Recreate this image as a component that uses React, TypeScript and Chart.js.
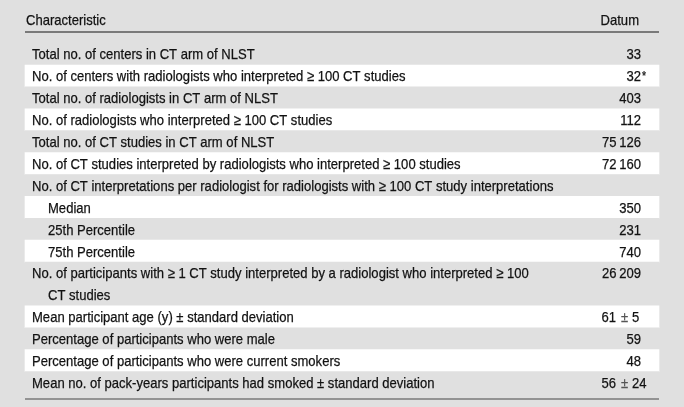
import React, { useEffect, useRef } from "react";
import { Chart, registerables } from "chart.js";

Chart.register(...registerables);

// ---- data ----
const headerLabels = ["Characteristic", "Datum"];

const characteristicLines: string[][] = [
  ["Total no. of centers in CT arm of NLST"],
  ["No. of centers with radiologists who interpreted \u2265 100 CT studies"],
  ["Total no. of radiologists in CT arm of NLST"],
  ["No. of radiologists who interpreted \u2265 100 CT studies"],
  ["Total no. of CT studies in CT arm of NLST"],
  ["No. of CT studies interpreted by radiologists who interpreted \u2265 100 studies"],
  ["No. of CT interpretations per radiologist for radiologists with \u2265 100 CT study interpretations"],
  ["Median"],
  ["25th Percentile"],
  ["75th Percentile"],
  ["No. of participants with \u2265 1 CT study interpreted by a radiologist who interpreted \u2265 100", "CT studies"],
  ["Mean participant age (y) \u00b1 standard deviation"],
  ["Percentage of participants who were male"],
  ["Percentage of participants who were current smokers"],
  ["Mean no. of pack-years participants had smoked \u00b1 standard deviation"],
];

const indentLevels = [0, 0, 0, 0, 0, 0, 0, 1, 1, 1, 0, 0, 0, 0, 0];

const datumMain = ["33", "32", "403", "112", "75\u2009126", "72\u2009160", "", "350", "231", "740", "26\u2009209", "61", "59", "48", "56"];
const datumSpread = ["", "", "", "", "", "", "", "", "", "", "", "5", "", "", "24"];
const datumFootnote = ["", "*", "", "", "", "", "", "", "", "", "", "", "", "", ""];

// ---- row slots (a wrapped row takes more than one slot) ----
const rowSlots: number[] = [];
{
  let s = 1;
  for (const lines of characteristicLines) {
    rowSlots.push(s);
    s += lines.length;
  }
}

const FONT = '"Liberation Sans", Arial, sans-serif';
const FONT_SIZE = 15;
const X_SQUEEZE = 0.87;

export default function App() {
  const ref = useRef<HTMLCanvasElement | null>(null);

  useEffect(() => {
    if (!ref.current) return;

    const drawText = (
      ctx: CanvasRenderingContext2D,
      text: string,
      x: number,
      y: number,
      align: CanvasTextAlign,
      size: number = FONT_SIZE,
      color: string = "#121212"
    ) => {
      ctx.save();
      ctx.translate(x, y + 0.36 * FONT_SIZE);
      ctx.scale(X_SQUEEZE, 1);
      ctx.font = `${size}px ${FONT}`;
      ctx.fillStyle = color;
      ctx.strokeStyle = color;
      ctx.lineWidth = 0.25;
      ctx.textBaseline = "alphabetic";
      ctx.textAlign = align;
      ctx.fillText(text, 0, 0);
      ctx.strokeText(text, 0, 0);
      ctx.restore();
    };

    const tablePlugin = {
      id: "tableText",
      afterDatasetsDraw(chart: any) {
        const { ctx, scales } = chart;
        const xs = scales.x;
        const ys = scales.y;
        ctx.save();
        ctx.strokeStyle = "#7a7a7a";
        ctx.lineWidth = 2;
        ctx.beginPath();
        ctx.moveTo(xs.getPixelForValue(25), ys.getPixelForValue(0));
        ctx.lineTo(xs.getPixelForValue(659), ys.getPixelForValue(0));
        ctx.stroke();
        ctx.lineWidth = 1.5;
        ctx.beginPath();
        ctx.moveTo(xs.getPixelForValue(25), ys.getPixelForValue(16.75));
        ctx.lineTo(xs.getPixelForValue(659), ys.getPixelForValue(16.75));
        ctx.stroke();
        ctx.restore();

        const hy = ys.getPixelForValue(-0.55);
        drawText(ctx, headerLabels[0], xs.getPixelForValue(26), hy, "left");
        drawText(ctx, headerLabels[1], xs.getPixelForValue(639), hy, "right");

        characteristicLines.forEach((lines, i) => {
          const slot = rowSlots[i];
          lines.forEach((line, li) => {
            const indent = indentLevels[i] + (li > 0 ? 1 : 0);
            drawText(ctx, line, xs.getPixelForValue(32 + indent * 16), ys.getPixelForValue(slot + li), "left");
          });
          const y = ys.getPixelForValue(slot);
          if (datumSpread[i]) {
            drawText(ctx, datumMain[i], xs.getPixelForValue(616), y, "right");
            drawText(ctx, "\u00b1", xs.getPixelForValue(621), y, "left", FONT_SIZE, "#555");
            drawText(ctx, datumSpread[i], xs.getPixelForValue(632), y, "left");
          } else if (datumMain[i]) {
            drawText(ctx, datumMain[i], xs.getPixelForValue(641), y, "right");
            if (datumFootnote[i]) {
              drawText(ctx, datumFootnote[i], xs.getPixelForValue(642), y - 1, "left", 12);
            }
          }
        });
      },
    };

    const chart = new Chart(ref.current, {
      type: "bar",
      data: {
        datasets: [
          {
            data: rowSlots.map((slot) => ({ x: [25, 659], y: slot })) as any,
            backgroundColor: rowSlots.map((_, i) => (i % 2 === 1 ? "#ffffff" : "#e0e0e0")),
            borderWidth: 0,
            barPercentage: 1,
            categoryPercentage: 1,
          },
        ],
      },
      options: {
        indexAxis: "y",
        animation: false,
        responsive: true,
        maintainAspectRatio: false,
        layout: { padding: 0 },
        scales: {
          x: { type: "linear", min: 0, max: 684, display: false, offset: false },
          y: {
            type: "linear",
            min: -1.466,
            max: 17.118,
            reverse: true,
            display: false,
            offset: false,
            afterBuildTicks: (s: any) => {
              s.ticks = [];
            },
          },
        },
        plugins: { legend: { display: false }, tooltip: { enabled: false } },
      },
      plugins: [tablePlugin],
    });
    return () => chart.destroy();
  }, []);

  return (
    <div
      style={{
        position: "fixed",
        left: 0,
        top: 0,
        width: 684,
        height: 407,
        background: "#e0e0e0",
      }}
    >
      <canvas ref={ref} />
    </div>
  );
}
